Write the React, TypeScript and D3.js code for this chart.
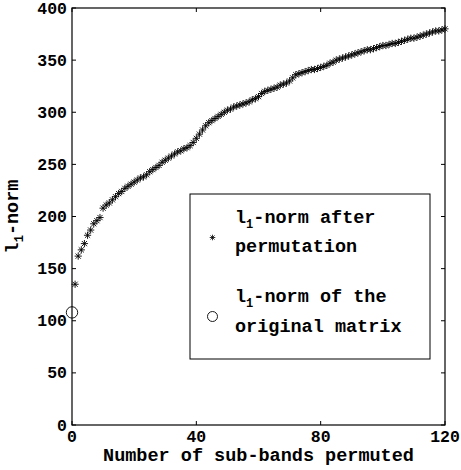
import React from "react";
import * as d3 from "d3";

const permutedNorms: number[] = [
  135, 162, 168, 174, 182, 187, 193, 196, 199, 208,
  211, 213, 216, 219, 222, 224, 227, 229, 231, 233,
  235, 237, 238, 240, 243, 245, 247, 249, 252, 254,
  256, 258, 260, 262, 263, 265, 266, 268, 271, 275,
  279, 283, 287, 290, 292, 294, 296, 298, 300, 302,
  303, 305, 306, 307, 308, 309, 310, 312, 313, 315,
  318, 320, 321, 322, 323, 324, 326, 327, 328, 330,
  333, 336, 337, 338, 339, 340, 341, 341, 342, 343,
  344, 345, 347, 348, 350, 351, 352, 353, 354, 355,
  356, 357, 358, 359, 360, 360, 361, 362, 363, 364,
  364, 365, 366, 366, 367, 368, 369, 370, 371, 371,
  372, 373, 374, 375, 376, 377, 378, 378, 379, 380,
];
const originalNorm = { x: 0, y: 108 };
const xTicks = [0, 40, 80, 120];
const yTicks = [0, 50, 100, 150, 200, 250, 300, 350, 400];

const W = 461;
const H = 470;
const M = { left: 72, right: 445, top: 8, bottom: 425 };
const FONT = "'Liberation Mono', 'Courier New', monospace";

const starPath = (s: number) => {
  const a = s * 0.72;
  return `M${-s},0L${s},0M0,${-s}L0,${s}M${-a},${-a}L${a},${a}M${-a},${a}L${a},${-a}`;
};

export default function App() {
  const x = d3.scaleLinear().domain([0, 120]).range([M.left, M.right]);
  const y = d3.scaleLinear().domain([0, 400]).range([M.bottom, M.top]);
  const tickLen = 4;

  return (
    <svg
      width={W}
      height={H}
      style={{ position: "absolute", left: 0, top: 0, background: "#fff" }}
      fontFamily={FONT}
      fontWeight="bold"
    >
      <rect x={0} y={0} width={W} height={H} fill="#fff" />
      {/* data */}
      <g stroke="#000" strokeWidth={0.9} fill="none">
        {permutedNorms.map((v, i) => (
          <path
            key={i}
            d={starPath(3.6)}
            transform={`translate(${x(i + 1)},${y(v)})`}
          />
        ))}
      </g>
      <circle
        cx={x(originalNorm.x)}
        cy={y(originalNorm.y)}
        r={5.7}
        fill="none"
        stroke="#000"
        strokeWidth={0.9}
      />
      {/* frame */}
      <rect
        x={M.left}
        y={M.top}
        width={M.right - M.left}
        height={M.bottom - M.top}
        fill="none"
        stroke="#000"
        strokeWidth={1.2}
      />
      {/* ticks */}
      <g stroke="#000" strokeWidth={1}>
        {xTicks.map((t) => (
          <g key={"xt" + t}>
            <line x1={x(t)} x2={x(t)} y1={M.bottom} y2={M.bottom - tickLen} />
            <line x1={x(t)} x2={x(t)} y1={M.top} y2={M.top + tickLen} />
          </g>
        ))}
        {yTicks.map((t) => (
          <g key={"yt" + t}>
            <line x1={M.left} x2={M.left + tickLen} y1={y(t)} y2={y(t)} />
            <line x1={M.right} x2={M.right - tickLen} y1={y(t)} y2={y(t)} />
          </g>
        ))}
      </g>
      <g fontSize={16.5} fill="#000">
        {xTicks.map((t) => (
          <text key={"xl" + t} x={x(t)} y={442} textAnchor="middle">
            {t}
          </text>
        ))}
        {yTicks.map((t) => (
          <text key={"yl" + t} x={67} y={y(t) + 5.5} textAnchor="end">
            {t}
          </text>
        ))}
      </g>
      {/* axis labels */}
      <text x={(M.left + M.right) / 2} y={461} textAnchor="middle" fontSize={18.5} fill="#000">
        Number of sub-bands permuted
      </text>
      <text
        transform={`translate(18,${(M.top + M.bottom) / 2}) rotate(-90)`}
        textAnchor="middle"
        fontSize={18.5}
        fill="#000"
      >
        l
        <tspan fontSize={12} dy={5}>1</tspan>
        <tspan dy={-5}>-norm</tspan>
      </text>
      {/* legend */}
      <rect x={190} y={194} width={240} height={165} fill="#fff" stroke="#000" strokeWidth={1} />
      <path d={starPath(2.8)} transform="translate(212.5,237.5)" stroke="#000" strokeWidth={0.8} fill="none" />
      <circle cx={212.5} cy={316.5} r={5} fill="none" stroke="#000" strokeWidth={0.9} />
      <g fontSize={18.5} fill="#000">
        <text x={235} y={223}>
          l<tspan fontSize={12} dy={5}>1</tspan>
          <tspan dy={-5}>-norm after</tspan>
        </text>
        <text x={235} y={252}>permutation</text>
        <text x={235} y={302}>
          l<tspan fontSize={12} dy={5}>1</tspan>
          <tspan dy={-5}>-norm of the</tspan>
        </text>
        <text x={235} y={332}>original matrix</text>
      </g>
    </svg>
  );
}
